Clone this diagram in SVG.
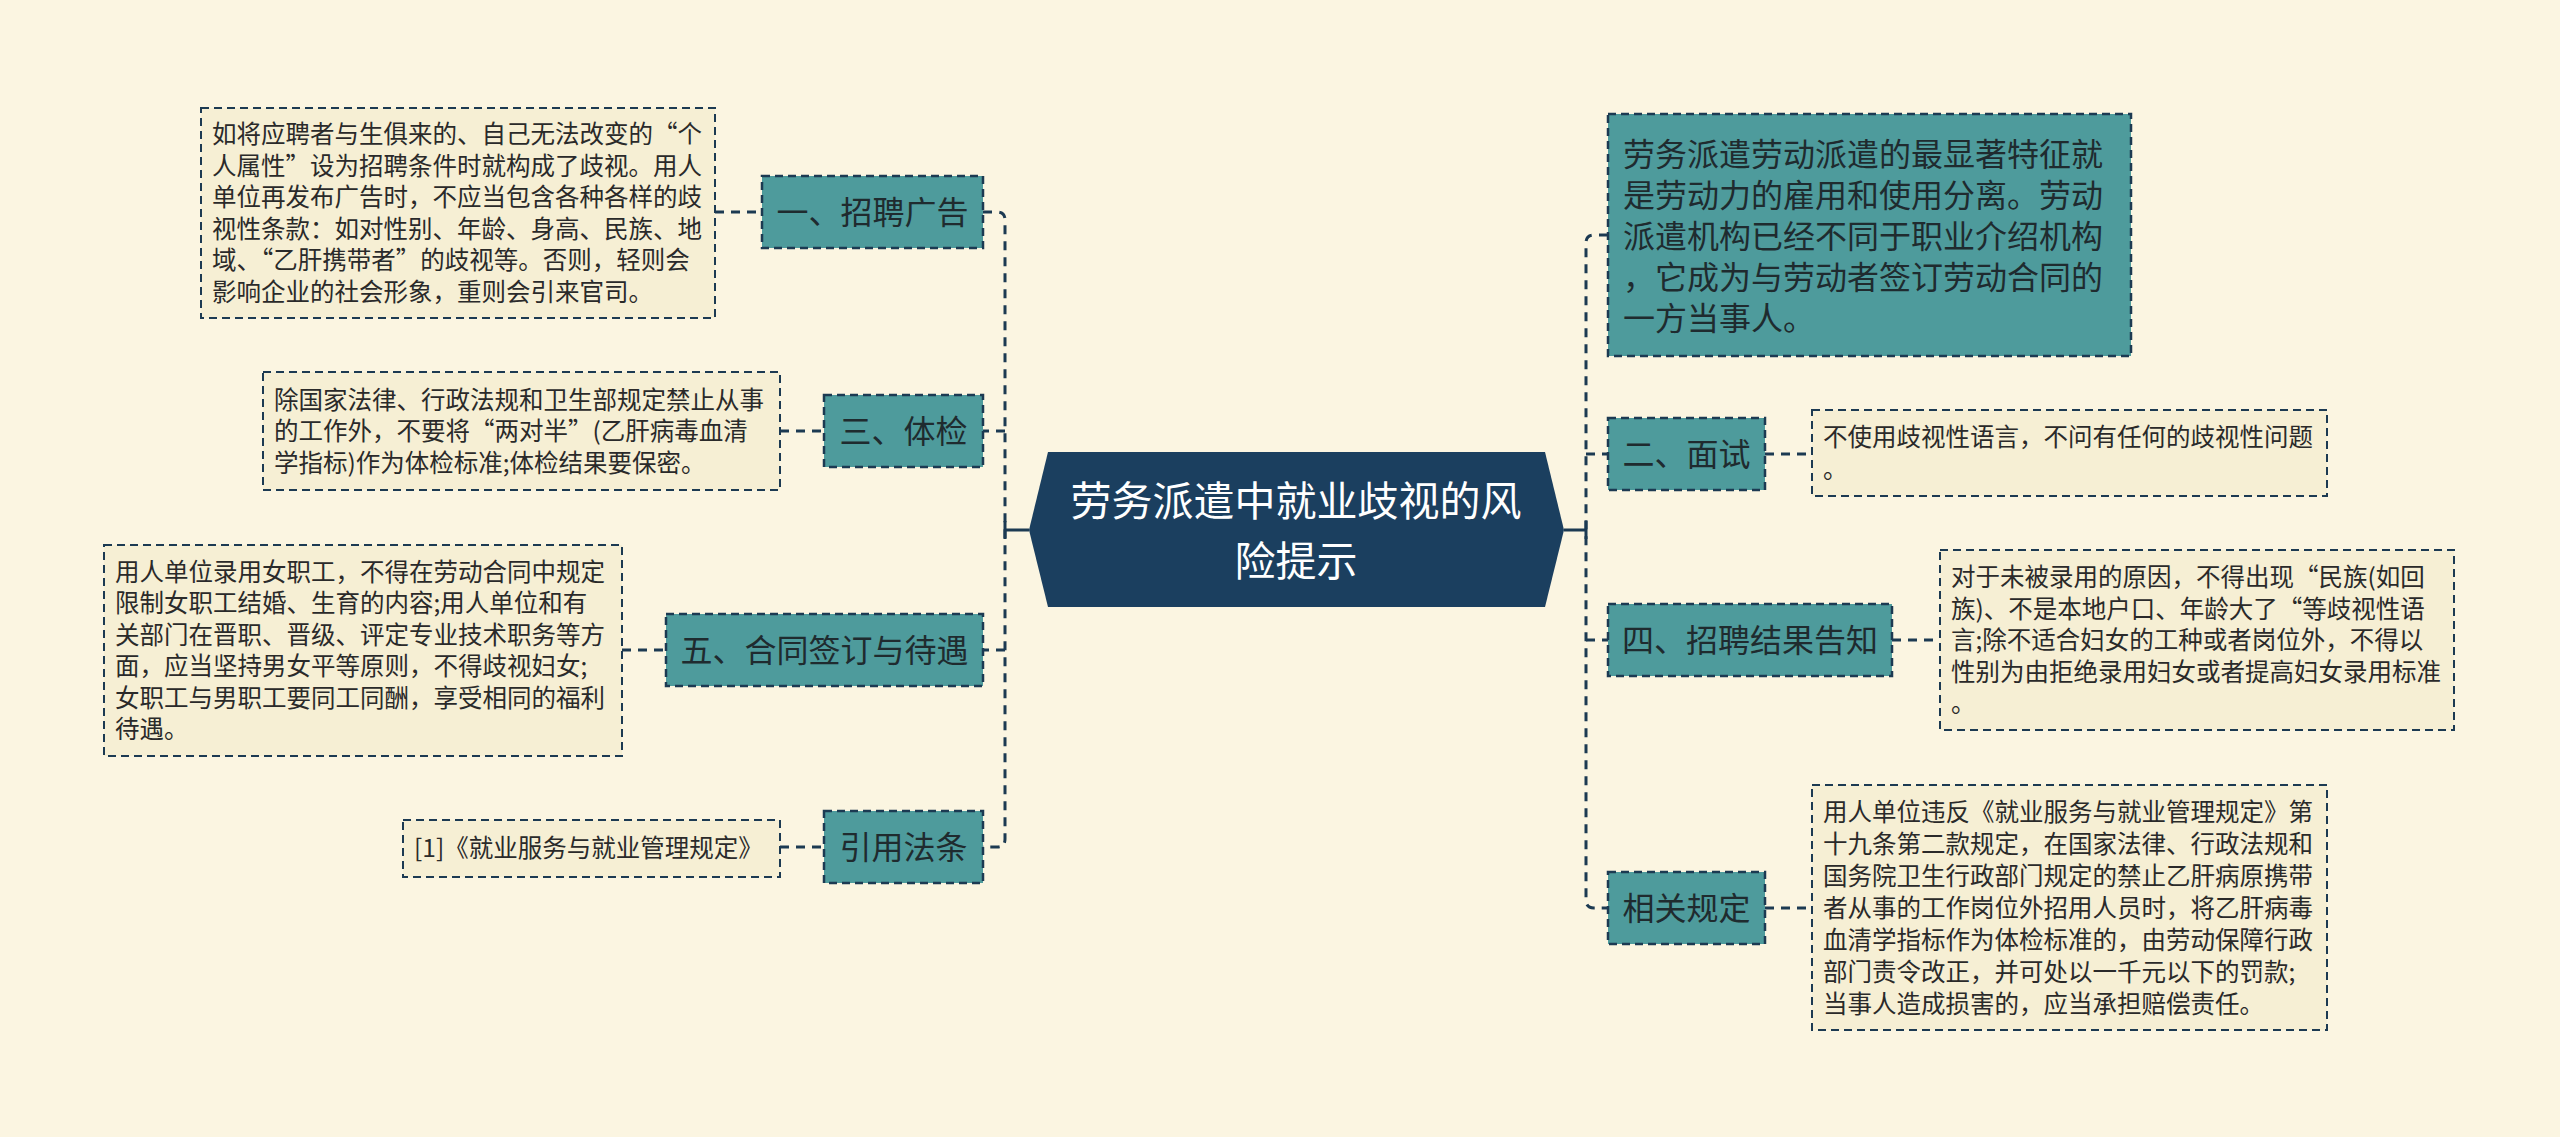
<svg xmlns="http://www.w3.org/2000/svg" width="2560" height="1137" viewBox="0 0 2560 1137">
<style>
.bg{fill:#fbf5e1}
.topic{fill:#4e9b9c;stroke:#1c3a52;stroke-width:2.5;stroke-dasharray:8 5}
.note{fill:#f6efd4;stroke:#1c3a52;stroke-width:2;stroke-dasharray:8 5}
.conn{fill:none;stroke:#1c3a52;stroke-width:3;stroke-dasharray:9 7}
.solid{fill:none;stroke:#1c3a52;stroke-width:3}
.tt{font-family:"Noto Sans CJK SC","Noto Sans",sans-serif;font-size:32px;fill:#1f2b2f;text-anchor:middle}
.at{font-family:"Noto Sans CJK SC","Noto Sans",sans-serif;font-size:32px;fill:#1f2b2f}
.nt{font-family:"Noto Sans CJK SC","Noto Sans",sans-serif;font-size:24.5px;fill:#2a2a2a}
.ct{font-family:"Noto Sans CJK SC","Noto Sans",sans-serif;font-size:41px;fill:#ffffff;text-anchor:middle}
</style>
<rect class="bg" x="0" y="0" width="2560" height="1137"/>

<g id="connectors">
  <path class="solid" d="M1029 530 H1005 M1005 521 V539"/>
  <path class="solid" d="M1564 530 H1586 M1586 521 V539"/>
  <path class="conn" d="M983 212 H997 Q1005 212 1005 220 V839 Q1005 847 997 847 H983"/>
  <path class="conn" d="M1005 431 H983"/>
  <path class="conn" d="M1005 650 H983"/>
  <path class="conn" d="M1608 235 H1594 Q1586 235 1586 243 V900 Q1586 908 1594 908 H1608"/>
  <path class="conn" d="M1586 454 H1608"/>
  <path class="conn" d="M1586 640 H1608"/>
  <path class="conn" d="M715 212 H762"/>
  <path class="conn" d="M780 431 H824"/>
  <path class="conn" d="M622 650 H666"/>
  <path class="conn" d="M780 847 H824"/>
  <path class="conn" d="M1765 454 H1812"/>
  <path class="conn" d="M1892 640 H1940"/>
  <path class="conn" d="M1765 908 H1812"/>
</g>

<g id="center">
  <polygon points="1029,530 1048,452 1545,452 1564,530 1545,607 1048,607" fill="#1b3f5f"/>
  <text class="ct" x="1296" y="516">劳务派遣中就业歧视的风</text>
  <text class="ct" x="1296" y="576">险提示</text>
</g>

<g id="n-zhaopin">
  <rect class="topic" x="762" y="176" width="221" height="72"/>
  <text class="tt" x="872.5" y="224">一、招聘广告</text>
</g>
<g id="n-zhaopin-note">
  <rect class="note" x="201" y="108" width="514" height="210"/>
  <text class="nt" x="212" y="143">如将应聘者与生俱来的、自己无法改变的“个</text>
  <text class="nt" x="212" y="174.5">人属性”设为招聘条件时就构成了歧视。用人</text>
  <text class="nt" x="212" y="206">单位再发布广告时，不应当包含各种各样的歧</text>
  <text class="nt" x="212" y="237.5">视性条款：如对性别、年龄、身高、民族、地</text>
  <text class="nt" x="212" y="269">域、“乙肝携带者”的歧视等。否则，轻则会</text>
  <text class="nt" x="212" y="300.5">影响企业的社会形象，重则会引来官司。</text>
</g>

<g id="n-tijian">
  <rect class="topic" x="824" y="395" width="159" height="72"/>
  <text class="tt" x="903.5" y="443">三、体检</text>
</g>
<g id="n-tijian-note">
  <rect class="note" x="263" y="372" width="517" height="118"/>
  <text class="nt" x="274" y="408.5">除国家法律、行政法规和卫生部规定禁止从事</text>
  <text class="nt" x="274" y="440">的工作外，不要将“两对半”(乙肝病毒血清</text>
  <text class="nt" x="274" y="471.5">学指标)作为体检标准;体检结果要保密。</text>
</g>

<g id="n-hetong">
  <rect class="topic" x="666" y="614" width="317" height="72"/>
  <text class="tt" x="824.5" y="662">五、合同签订与待遇</text>
</g>
<g id="n-hetong-note">
  <rect class="note" x="104" y="545" width="518" height="211"/>
  <text class="nt" x="115" y="580.5">用人单位录用女职工，不得在劳动合同中规定</text>
  <text class="nt" x="115" y="612">限制女职工结婚、生育的内容;用人单位和有</text>
  <text class="nt" x="115" y="643.5">关部门在晋职、晋级、评定专业技术职务等方</text>
  <text class="nt" x="115" y="675">面，应当坚持男女平等原则，不得歧视妇女;</text>
  <text class="nt" x="115" y="706.5">女职工与男职工要同工同酬，享受相同的福利</text>
  <text class="nt" x="115" y="738">待遇。</text>
</g>

<g id="n-fatiao">
  <rect class="topic" x="824" y="811" width="159" height="72"/>
  <text class="tt" x="903.5" y="859">引用法条</text>
</g>
<g id="n-fatiao-note">
  <rect class="note" x="403" y="820" width="377" height="57"/>
  <text class="nt" x="414" y="857">[1]《就业服务与就业管理规定》</text>
</g>

<g id="n-tezheng">
  <rect class="topic" x="1608" y="114" width="523" height="242"/>
  <text class="at" x="1623" y="165.5">劳务派遣劳动派遣的最显著特征就</text>
  <text class="at" x="1623" y="206.5">是劳动力的雇用和使用分离。劳动</text>
  <text class="at" x="1623" y="247.5">派遣机构已经不同于职业介绍机构</text>
  <text class="at" x="1623" y="288.5">，它成为与劳动者签订劳动合同的</text>
  <text class="at" x="1623" y="329.5">一方当事人。</text>
</g>

<g id="n-mianshi">
  <rect class="topic" x="1608" y="418" width="157" height="72"/>
  <text class="tt" x="1686.5" y="466">二、面试</text>
</g>
<g id="n-mianshi-note">
  <rect class="note" x="1812" y="410" width="515" height="86"/>
  <text class="nt" x="1823" y="446">不使用歧视性语言，不问有任何的歧视性问题</text>
  <text class="nt" x="1823" y="478">。</text>
</g>

<g id="n-gaozhi">
  <rect class="topic" x="1608" y="604" width="284" height="72"/>
  <text class="tt" x="1750" y="652">四、招聘结果告知</text>
</g>
<g id="n-gaozhi-note">
  <rect class="note" x="1940" y="550" width="514" height="180"/>
  <text class="nt" x="1951" y="586">对于未被录用的原因，不得出现“民族(如回</text>
  <text class="nt" x="1951" y="617.5">族)、不是本地户口、年龄大了“等歧视性语</text>
  <text class="nt" x="1951" y="649">言;除不适合妇女的工种或者岗位外，不得以</text>
  <text class="nt" x="1951" y="680.5">性别为由拒绝录用妇女或者提高妇女录用标准</text>
  <text class="nt" x="1951" y="712">。</text>
</g>

<g id="n-guiding">
  <rect class="topic" x="1608" y="872" width="157" height="72"/>
  <text class="tt" x="1686.5" y="920">相关规定</text>
</g>
<g id="n-guiding-note">
  <rect class="note" x="1812" y="785" width="515" height="245"/>
  <text class="nt" x="1823" y="821">用人单位违反《就业服务与就业管理规定》第</text>
  <text class="nt" x="1823" y="853">十九条第二款规定，在国家法律、行政法规和</text>
  <text class="nt" x="1823" y="885">国务院卫生行政部门规定的禁止乙肝病原携带</text>
  <text class="nt" x="1823" y="917">者从事的工作岗位外招用人员时，将乙肝病毒</text>
  <text class="nt" x="1823" y="949">血清学指标作为体检标准的，由劳动保障行政</text>
  <text class="nt" x="1823" y="981">部门责令改正，并可处以一千元以下的罚款;</text>
  <text class="nt" x="1823" y="1013">当事人造成损害的，应当承担赔偿责任。</text>
</g>
</svg>
